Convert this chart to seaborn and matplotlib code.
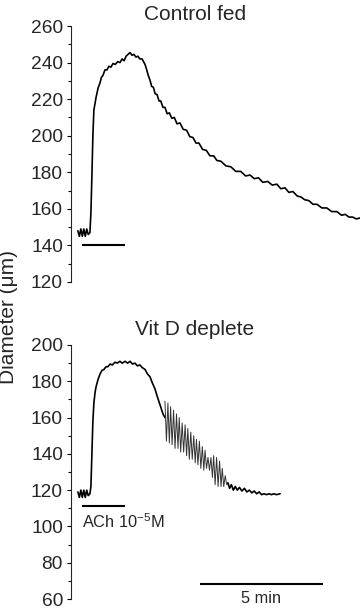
import matplotlib
matplotlib.use("Agg")
import matplotlib.pyplot as plt
import seaborn as sns
import pandas as pd
from matplotlib.ticker import MultipleLocator

# ---------------- data (time in minutes, diameter in µm) ----------------
top_t = [0.28, 0.34, 0.40, 0.46, 0.52, 0.58, 0.64, 0.70, 0.77,
         0.81, 0.85, 0.89, 0.93, 1.02, 1.10, 1.18, 1.24, 1.30, 1.38, 1.46, 1.54,
         1.62, 1.71, 1.80, 1.90, 1.99, 2.08, 2.16, 2.24, 2.32, 2.40, 2.48, 2.56,
         2.64, 2.72, 2.80, 2.89, 2.95, 3.01, 3.08, 3.14, 3.21, 3.28, 3.35, 3.42,
         3.50, 3.58, 3.65, 3.74, 3.82, 3.91, 4.00, 4.10, 4.20, 4.31, 4.43, 4.56,
         4.70, 4.83, 4.96, 5.08, 5.20, 5.35, 5.50, 5.65, 5.80, 5.93, 6.10, 6.30,
         6.50, 6.70, 6.90, 7.10, 7.28, 7.45, 7.62, 7.80, 8.00, 8.18, 8.37, 8.53,
         8.70, 8.86, 9.02, 9.20, 9.35, 9.50, 9.67, 9.84, 10.00, 10.20, 10.40,
         10.60, 10.81, 11.00, 11.15, 11.30, 11.45, 11.60, 11.75]
top_d = [148, 145, 149, 145, 149, 145, 149, 146, 147,
         158, 178, 200, 214, 221, 226, 229, 232, 233, 236, 236, 238,
         237.5, 239.5, 239, 240.5, 240, 242, 241, 243.5, 244.5, 245.5, 244, 244.5,
         243, 243.5, 242, 242, 240.5, 239, 236, 233, 230.5, 227, 226.5, 223,
         222.5, 219, 219, 215.5, 215.5, 212, 212.5, 209.5, 210, 206.5, 207, 203.5,
         203, 199.5, 199, 196, 196, 192.5, 192, 189, 189, 186.5, 186, 183.5,
         183, 180.5, 180.5, 178, 178.5, 176.5, 177, 174.5, 175, 173, 173.5, 171,
         171.5, 169, 169.5, 167, 166.5, 165, 164.5, 162.5, 162.5, 160.5, 160.5,
         158.5, 158.5, 156.5, 157, 155.5, 155.5, 154.5, 155]

bot_pre_t = [0.28, 0.34, 0.40, 0.46, 0.52, 0.58, 0.64, 0.70, 0.77,
             0.81, 0.85, 0.89, 0.93, 0.98, 1.02, 1.10, 1.18, 1.26, 1.34, 1.42, 1.50,
             1.59, 1.68, 1.79, 1.88, 1.99, 2.08, 2.20, 2.30, 2.40, 2.50, 2.60, 2.70,
             2.80, 2.90, 3.01, 3.11, 3.21, 3.31, 3.41, 3.51, 3.62, 3.74, 3.82]
bot_pre_d = [119, 116, 120, 116, 120, 116, 120, 117, 118,
             122, 140, 158, 168, 174, 177, 181, 184, 186, 186.5, 188, 188,
             189.5, 189, 190.5, 190, 191, 190, 191, 190, 191, 189.5, 190, 188.5,
             189, 187.5, 186.5, 184, 182.5, 179, 176, 171.5, 167, 162, 160]

osc_t = [3.82, 3.88, 3.94, 4.00, 4.05, 4.11, 4.17, 4.23, 4.29, 4.35, 4.40, 4.46,
         4.52, 4.58, 4.64, 4.70, 4.75, 4.81, 4.87, 4.93, 4.99, 5.05, 5.10, 5.16,
         5.22, 5.28, 5.34, 5.40, 5.45, 5.51, 5.57, 5.63, 5.69, 5.75, 5.80, 5.86,
         5.92, 5.98, 6.04, 6.10, 6.15, 6.21, 6.27, 6.33, 6.38]
osc_d = [169, 147, 168, 146, 166, 145, 164, 143, 162, 143, 160, 141,
         157, 141, 156, 139, 154, 137, 152, 137, 150, 135, 148, 134,
         147, 132, 144, 131, 142, 132, 138, 131, 138, 127, 139, 123,
         138, 122, 136, 122, 132, 122, 128, 123, 124]

bot_post_t = [6.38, 6.45, 6.52, 6.60, 6.68, 6.76, 6.85, 6.95, 7.05, 7.15, 7.25,
              7.35, 7.45, 7.55, 7.65, 7.75, 7.85, 7.95, 8.05, 8.15, 8.25, 8.35, 8.50]
bot_post_d = [124, 121, 123, 120, 122, 120, 121.5, 119.5, 121, 119, 120,
              118.5, 119.5, 118, 119, 117.5, 118, 117.5, 118, 117.5, 118, 117.5, 118]

ach_t = [0.45, 2.20]          # ACh application bar
ach_top_level = [140, 140]
ach_bot_level = [111.5, 111.5]
scale_t = [5.24, 10.24]       # 5 min scale bar
scale_level = [68, 68]

titles = ["Control fed", "Vit D deplete"]
top_ylim = (120, 260)
bot_ylim = (60, 200)
x_lim = (0, 11.75)

# ---------------- style ----------------
sns.set_style("ticks")
plt.rcParams["font.family"] = ["Liberation Sans", "DejaVu Sans"]
plt.rcParams["mathtext.fontset"] = "custom"
plt.rcParams["mathtext.rm"] = "Liberation Sans"
plt.rcParams["mathtext.it"] = "Liberation Sans:italic"
plt.rcParams["mathtext.default"] = "regular"

fig = plt.figure(figsize=(3.6, 6.08), dpi=100)
ax1 = fig.add_axes([0.1972, 0.5362, 0.8028, 0.4210])
ax2 = fig.add_axes([0.1972, 0.0148, 0.8028, 0.4178])

def trace(ax, t, d, lw=1.2, color="black"):
    df = pd.DataFrame({"t": t, "d": d})
    sns.lineplot(data=df, x="t", y="d", ax=ax, color=color, linewidth=lw,
                 sort=False, estimator=None, legend=False)

trace(ax1, top_t, top_d)
trace(ax2, bot_pre_t, bot_pre_d)
trace(ax2, osc_t, osc_d, lw=0.7, color="#333333")
trace(ax2, bot_post_t, bot_post_d)

for ax, ylim in ((ax1, top_ylim), (ax2, bot_ylim)):
    ax.set_xlim(*x_lim)
    ax.set_ylim(*ylim)
    ax.patch.set_alpha(0)
    for s in ("top", "right", "bottom"):
        ax.spines[s].set_visible(False)
    ax.spines["left"].set_linewidth(0.8)
    ax.set_xticks([])
    ax.set_xlabel("")
    ax.set_ylabel("")
    ax.yaxis.set_major_locator(MultipleLocator(20))
    ax.yaxis.set_minor_locator(MultipleLocator(10))
    ax.tick_params(axis="y", which="major", length=3.2, width=0.8,
                   labelsize=13.8, pad=2.6, direction="out", color="black")
    ax.tick_params(axis="y", which="minor", length=2.0, width=0.8,
                   direction="out", color="black")

# ACh bars
ax1.plot(ach_t, ach_top_level, color="black", lw=1.5, solid_capstyle="butt")
ax2.plot(ach_t, ach_bot_level, color="black", lw=1.5, solid_capstyle="butt")
ax2.text(0.43, 99.0, "ACh 10$^{-5}$M", fontsize=11.8, ha="left", va="baseline")

# scale bar
ax2.plot(scale_t, scale_level, color="black", lw=1.5, solid_capstyle="butt",
         clip_on=False)
fig.text(261.5 / 360, 1 - 603.0 / 608, "5 min", fontsize=11.8,
         ha="center", va="baseline")

# titles and y label
fig.text(195 / 360, 1 - 20.5 / 608, titles[0], fontsize=15, ha="center", va="baseline")
fig.text(195 / 360, 1 - 335 / 608, titles[1], fontsize=15, ha="center", va="baseline")
fig.text(9 / 360, 1 - 316.5 / 608, "Diameter (\u03bcm)", fontsize=15,
         rotation=90, ha="center", va="center")

fig.savefig("out.png", dpi=100)
